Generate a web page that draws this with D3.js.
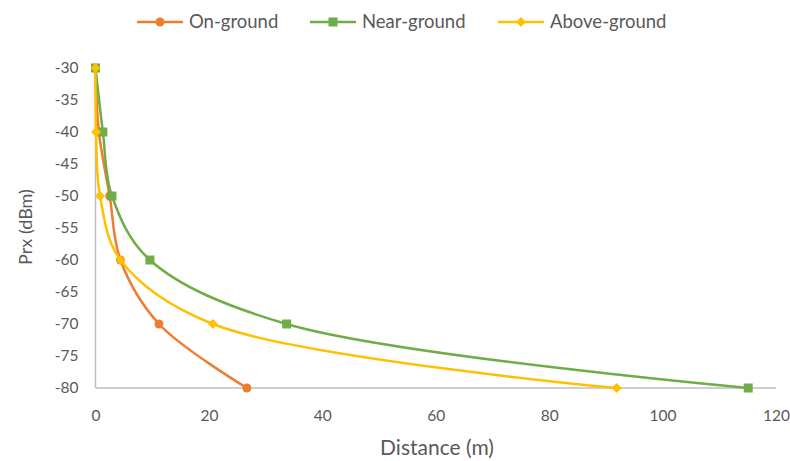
<!DOCTYPE html>
<html><head><meta charset="utf-8">
<script src="https://cdn.jsdelivr.net/npm/d3@7"></script>
<style>body{margin:0;background:#fff;} svg{display:block;font-family:Lato,"Open Sans",sans-serif;}</style>
</head><body>
<svg id="c" width="790" height="461"></svg>
<script>
const seriesNames = ["On-ground", "Near-ground", "Above-ground"];
const prx = [-30, -40, -50, -60, -70, -80];
const onGround = [0, 0.6, 2.5, 4.4, 11.2, 26.7];
const nearGround = [0, 1.3, 2.9, 9.6, 33.7, 115.1];
const aboveGround = [0, 0.1, 0.8, 4.4, 20.7, 91.9];
const xTicks = [0, 20, 40, 60, 80, 100, 120];
const yTicks = [-30, -35, -40, -45, -50, -55, -60, -65, -70, -75, -80];
const colors = ["#ED7D31", "#70AD47", "#FFC000"];
const shapes = ["circle", "square", "diamond"];

const svg = d3.select("#c");
const x = d3.scaleLinear().domain([0, 120]).range([95.5, 776]);
const y = d3.scaleLinear().domain([-80, -30]).range([388, 68]);
const textColor = "#595959";
const axisColor = "#BFBFBF";

svg.append("line").attr("x1", x(0)).attr("x2", x(120)).attr("y1", y(-80)).attr("y2", y(-80))
  .attr("stroke", axisColor).attr("stroke-width", 1.5);
svg.append("line").attr("x1", x(0)).attr("x2", x(0)).attr("y1", y(-30)).attr("y2", y(-80))
  .attr("stroke", axisColor).attr("stroke-width", 1.5);

const xAxis = svg.append("g").attr("transform", `translate(0,${y(-80)})`)
  .call(d3.axisBottom(x).tickValues(xTicks).tickSize(0).tickPadding(22));
const yAxis = svg.append("g").attr("transform", `translate(${x(0)},0)`)
  .call(d3.axisLeft(y).tickValues(yTicks).tickSize(0).tickPadding(17).tickFormat(d => d));
[xAxis, yAxis].forEach(g => {
  g.select(".domain").remove();
  g.selectAll("text").attr("fill", textColor).style("font-size", "15.5px").style("font-family", "Lato, sans-serif");
});

svg.append("text").attr("x", 437).attr("y", 455).attr("text-anchor", "middle")
  .attr("fill", textColor).style("font-size", "21px").text("Distance (m)");
svg.append("text").attr("transform", `translate(32,227) rotate(-90)`).attr("text-anchor", "middle")
  .attr("fill", textColor).style("font-size", "18px").text("Prx (dBm)");

const series = [onGround, nearGround, aboveGround];
const line = d3.line().x(d => x(d[0])).y(d => y(d[1])).curve(d3.curveCatmullRom.alpha(0.5));

function marker(g, shape, cx, cy, color) {
  if (shape === "circle") g.append("circle").attr("cx", cx).attr("cy", cy).attr("r", 4.5).attr("fill", color);
  else if (shape === "square") g.append("rect").attr("x", cx - 4.5).attr("y", cy - 4.5).attr("width", 9).attr("height", 9).attr("fill", color);
  else g.append("path").attr("d", `M${cx},${cy-5}L${cx+5},${cy}L${cx},${cy+5}L${cx-5},${cy}Z`).attr("fill", color);
}

series.forEach((s, i) => {
  const pts = s.map((v, k) => [v, prx[k]]);
  const g = svg.append("g");
  g.append("path").attr("d", line(pts)).attr("fill", "none").attr("stroke", colors[i]).attr("stroke-width", 2.5);
  pts.forEach(p => marker(g, shapes[i], x(p[0]), y(p[1]), colors[i]));
});

const legX = [137, 310, 498];
seriesNames.forEach((n, i) => {
  const g = svg.append("g").attr("transform", `translate(${legX[i]},22)`);
  g.append("line").attr("x1", 0).attr("x2", 46).attr("y1", 0).attr("y2", 0).attr("stroke", colors[i]).attr("stroke-width", 2.5);
  marker(g, shapes[i], 23, 0, colors[i]);
  g.append("text").attr("x", 52).attr("y", 6).attr("fill", textColor).style("font-size", "18.5px").text(n);
});
</script>
</body></html>
